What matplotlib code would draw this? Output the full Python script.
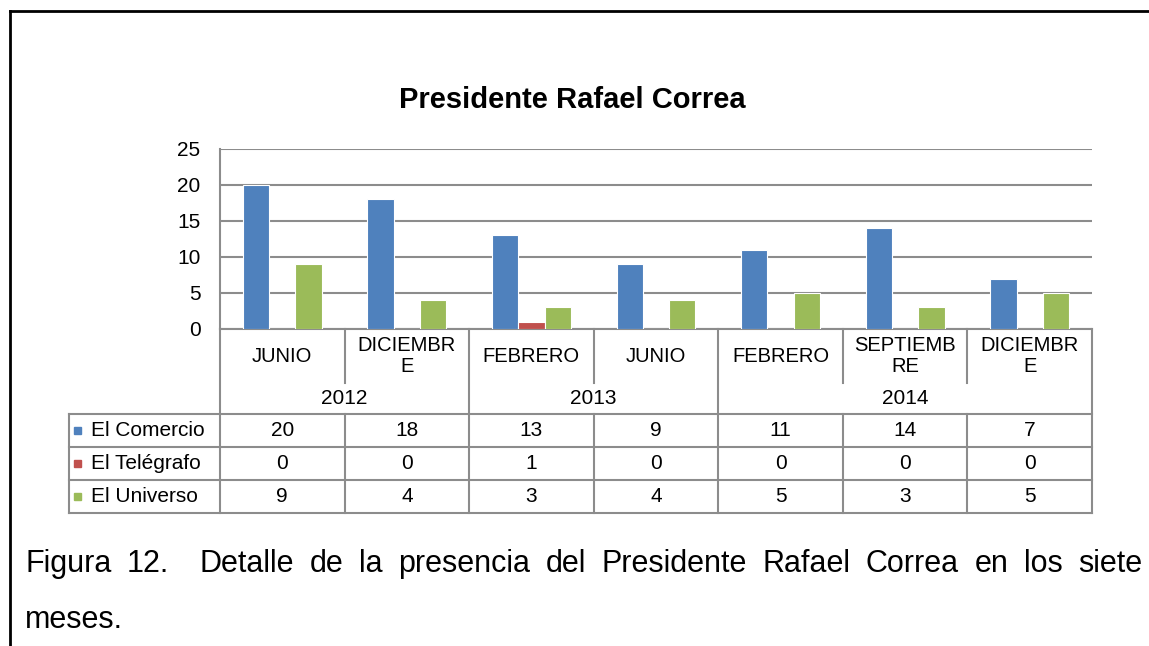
import matplotlib
matplotlib.use("Agg")
from matplotlib import pyplot as plt
from matplotlib.lines import Line2D
from matplotlib.patches import Rectangle
import numpy as np

plt.rcParams['font.family'] = ['Liberation Sans', 'DejaVu Sans']

# data
months = ["JUNIO", "DICIEMBR\nE", "FEBRERO", "JUNIO", "FEBRERO", "SEPTIEMB\nRE", "DICIEMBR\nE"]
years = ["2012", "2013", "2014"]
year_span = [2, 2, 3]          # months per year
series = ["El Comercio", "El Telégrafo", "El Universo"]
el_comercio = [20, 18, 13, 9, 11, 14, 7]
el_telegrafo = [0, 0, 1, 0, 0, 0, 0]
el_universo = [9, 4, 3, 4, 5, 3, 5]
colors = ["#4F81BD", "#C0504D", "#9BBB59"]
title = "Presidente Rafael Correa"
caption1 = "Figura 12.  Detalle de la presencia del Presidente Rafael Correa en los siete"
caption2 = "meses."

W, H = 1149, 646
fig = plt.figure(figsize=(W / 100, H / 100), dpi=100)

# plot area in pixels
px_left, px_right, px_top, px_zero = 220, 1092, 149, 329
ax = fig.add_axes([px_left / W, 1 - px_zero / H, (px_right - px_left) / W, (px_zero - px_top) / H])

grid_c = "#8C8C8C"
fs = 15
n = len(months)
x = np.arange(n)
bw = 0.211
values = [el_comercio, el_telegrafo, el_universo]
for k, (vals, c) in enumerate(zip(values, colors)):
    ax.bar(x + (k - 1) * bw, vals, width=bw, color=c, edgecolor="white", linewidth=0.8, zorder=3)

ax.set_xlim(-0.5, n - 0.5)
ax.set_ylim(0, 25)
ax.set_yticks([0, 5, 10, 15, 20, 25])
ax.tick_params(axis="y", length=0, pad=14, labelsize=fs)
ax.set_xticks([])
ax.yaxis.grid(True, color=grid_c, linewidth=1.5, zorder=0)
ax.set_axisbelow(True)
for s in ["top", "right", "bottom"]:
    ax.spines[s].set_visible(False)
ax.spines["left"].set_color(grid_c)
ax.spines["left"].set_linewidth(1.5)

# helper: pixel row -> axes fraction
def yf(p):
    return (px_zero - p) / (px_zero - px_top)

tr = ax.get_xaxis_transform()
def line(xs, ys, **kw):
    ax.add_line(Line2D(xs, [yf(v) for v in ys], transform=tr, color=grid_c,
                       linewidth=1.5, clip_on=False, **kw))

# category axis lines
row_top, row_h = 414, 33
bottom = row_top + 3 * row_h
line([-0.5, n - 0.5], [px_zero, px_zero])
line([-0.5, -0.5], [px_zero, bottom])
line([n - 0.5, n - 0.5], [px_zero, bottom])
year_bounds = np.cumsum(year_span)[:-1]
for b in range(1, n):
    if b in year_bounds:
        line([b - 0.5, b - 0.5], [px_zero, bottom])
    else:
        line([b - 0.5, b - 0.5], [px_zero, 383])
        line([b - 0.5, b - 0.5], [row_top, bottom])

# month labels
for i, m in enumerate(months):
    ax.text(i, yf(356), m, transform=tr, ha="center", va="center", fontsize=14.5,
            linespacing=1.15, clip_on=False)

# year labels
start = 0
for yl, span in zip(years, year_span):
    ax.text(start + (span - 1) / 2, yf(399), yl, transform=tr, ha="center", va="center",
            fontsize=fs, clip_on=False)
    start += span

# data table
cell_w = (px_right - px_left) / n
tab_left = -0.5 - (px_left - 69) / cell_w
for r in range(4):
    yy = row_top + r * row_h
    line([tab_left, n - 0.5], [yy, yy])
line([tab_left, tab_left], [row_top, bottom])
for r, (name, vals, c) in enumerate(zip(series, values, colors)):
    yc = row_top + r * row_h + row_h / 2
    ax.add_patch(Rectangle((tab_left + 5 / cell_w, yf(yc) - 0.022), 7 / cell_w, 0.044,
                           transform=tr, color=c, clip_on=False))
    ax.text(tab_left + 22 / cell_w, yf(yc), name, transform=tr, ha="left", va="center",
            fontsize=fs, clip_on=False)
    for i, v in enumerate(vals):
        ax.text(i, yf(yc), str(v), transform=tr, ha="center", va="center",
                fontsize=fs, clip_on=False)

# title
fig.text(572 / W, 1 - 108 / H, title, ha="center", va="baseline", fontsize=21, fontweight="bold")

# outer frame
fig.add_artist(Line2D([10 / W, 1], [1 - 11 / H, 1 - 11 / H], color="black", linewidth=2))
fig.add_artist(Line2D([10 / W, 10 / W], [0, 1 - 11 / H], color="black", linewidth=2))

# caption, justified between left and right margins
cap_l, cap_r = 25, 1142
cap_fs = 22
words = [w for w in caption1.split(" ") if w != ""]
renderer = fig.canvas.get_renderer()
txts = [fig.text(0, 1 - 572 / H, w, ha="left", va="baseline", fontsize=cap_fs) for w in words]
widths = [t.get_window_extent(renderer).width for t in txts]
gap = (cap_r - cap_l - sum(widths)) / len(words)  # one extra gap after "12."
xpos = cap_l
for w, t, wd in zip(words, txts, widths):
    t.set_x(xpos / W)
    xpos += wd + gap
    if w == "12.":
        xpos += gap
fig.text(cap_l / W, 1 - 628 / H, caption2, ha="left", va="baseline", fontsize=cap_fs)

fig.savefig("out.png", dpi=100)
